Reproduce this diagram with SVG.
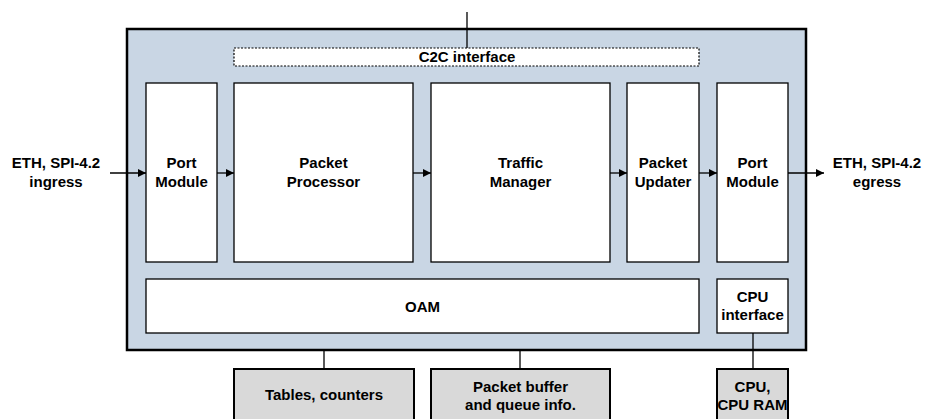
<svg xmlns="http://www.w3.org/2000/svg" width="935" height="419" viewBox="0 0 935 419">
<style>
text{font-family:"Liberation Sans",Arial,sans-serif;font-size:15px;font-weight:bold;fill:#000;text-anchor:middle}
.mod{fill:#fff;stroke:#000;stroke-width:1.3}
.ext{fill:#d9d9d9;stroke:#000;stroke-width:2}
.ln{stroke:#000;stroke-width:1.3;fill:none}
</style>
<defs>
<marker id="ah" markerWidth="8" markerHeight="8" refX="8" refY="4" orient="auto" markerUnits="userSpaceOnUse">
<path d="M0,0 L8,4 L0,8 z" fill="#000"/>
</marker>
</defs>
<g id="chip">
<rect x="127" y="29" width="679" height="321" fill="#c9d6e4" stroke="#000" stroke-width="2.5"/>
</g>
<g id="c2c">
<rect x="234" y="48" width="465" height="18" fill="#fff" stroke="#000" stroke-width="1.2" stroke-dasharray="2,1.5"/>
<text x="467" y="62">C2C interface</text>
</g>
<g id="port-in">
<rect class="mod" x="146" y="83" width="71" height="179"/>
<text x="181.5" y="168">Port</text>
<text x="181.5" y="187">Module</text>
</g>
<g id="packet-processor">
<rect class="mod" x="234" y="83" width="179" height="179"/>
<text x="323.5" y="168">Packet</text>
<text x="323.5" y="187">Processor</text>
</g>
<g id="traffic-manager">
<rect class="mod" x="431" y="83" width="179" height="179"/>
<text x="520.5" y="168">Traffic</text>
<text x="520.5" y="187">Manager</text>
</g>
<g id="packet-updater">
<rect class="mod" x="627" y="83" width="72" height="179"/>
<text x="663" y="168">Packet</text>
<text x="663" y="187">Updater</text>
</g>
<g id="port-out">
<rect class="mod" x="717" y="83" width="71" height="179"/>
<text x="752.5" y="168">Port</text>
<text x="752.5" y="187">Module</text>
</g>
<g id="oam">
<rect class="mod" x="146" y="279" width="553" height="54"/>
<text x="422.5" y="312">OAM</text>
</g>
<g id="cpu-interface">
<rect class="mod" x="717" y="279" width="71" height="54"/>
<text x="752.5" y="302">CPU</text>
<text x="752.5" y="320">interface</text>
</g>
<g id="tables">
<rect class="ext" x="234" y="369" width="180" height="60"/>
<text x="324" y="400">Tables, counters</text>
</g>
<g id="packet-buffer">
<rect class="ext" x="431" y="369" width="179" height="60"/>
<text x="520.5" y="392">Packet buffer</text>
<text x="520.5" y="410">and queue info.</text>
</g>
<g id="cpu">
<rect class="ext" x="717" y="369" width="71" height="60"/>
<text x="752.5" y="392">CPU,</text>
<text x="752.5" y="410">CPU RAM</text>
</g>
<g id="ingress-label">
<text x="56" y="168">ETH, SPI-4.2</text>
<text x="56" y="187">ingress</text>
</g>
<g id="egress-label">
<text x="877" y="168">ETH, SPI-4.2</text>
<text x="877" y="187">egress</text>
</g>
<g id="connectors">
<line class="ln" x1="467" y1="12" x2="467" y2="48"/>
<line class="ln" x1="110" y1="173" x2="146" y2="173" marker-end="url(#ah)"/>
<line class="ln" x1="217" y1="173" x2="234" y2="173" marker-end="url(#ah)"/>
<line class="ln" x1="413" y1="173" x2="431" y2="173" marker-end="url(#ah)"/>
<line class="ln" x1="610" y1="173" x2="627" y2="173" marker-end="url(#ah)"/>
<line class="ln" x1="699" y1="173" x2="717" y2="173" marker-end="url(#ah)"/>
<line class="ln" x1="788" y1="173" x2="824" y2="173" marker-end="url(#ah)"/>
<line class="ln" x1="324" y1="350" x2="324" y2="369"/>
<line class="ln" x1="520" y1="350" x2="520" y2="369"/>
<line class="ln" x1="753" y1="333" x2="753" y2="369"/>
</g>
</svg>
